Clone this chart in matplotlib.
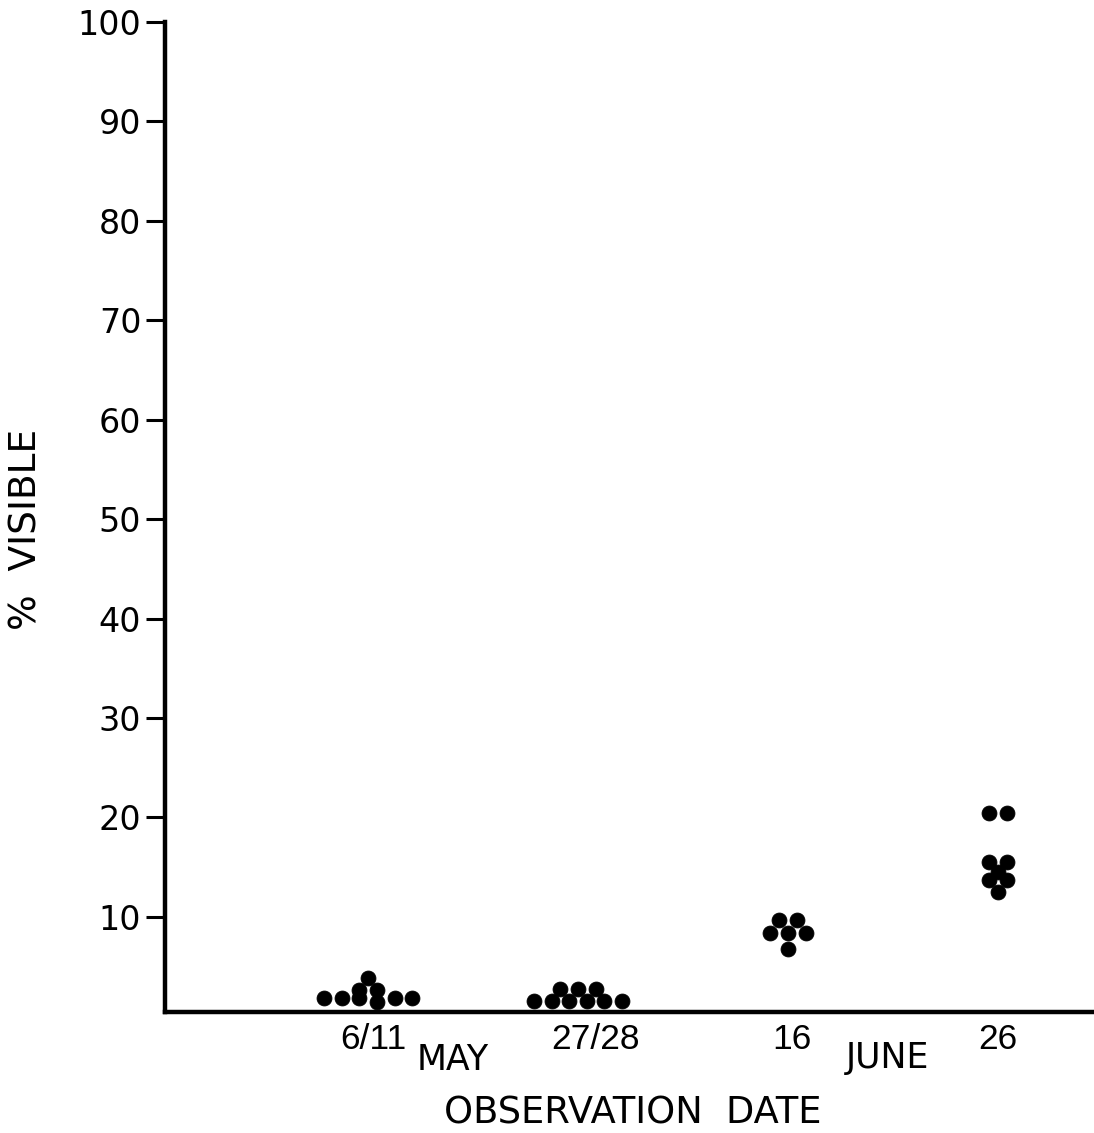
import numpy as np
import matplotlib
matplotlib.use("Agg")
import matplotlib.pyplot as plt
from matplotlib.transforms import ScaledTranslation

# Observation dates and the percentage of plants visible at each
dates = ["6/11", "27/28", "16", "26"]
months = ["MAY", "JUNE"]
pct_may_6_11 = [1.8, 1.8, 1.8, 1.4, 1.8, 1.8, 2.7, 2.7, 3.9]
pct_may_27_28 = [1.5, 1.5, 1.5, 1.5, 1.5, 1.5, 2.8, 2.8, 2.8]
pct_june_16 = [6.8, 8.4, 8.4, 8.4, 9.7, 9.7]
pct_june_26 = [12.5, 13.7, 13.7, 14.5, 15.5, 15.5, 20.5, 20.5]
groups = [pct_may_6_11, pct_may_27_28, pct_june_16, pct_june_26]
y_ticks = [10, 20, 30, 40, 50, 60, 70, 80, 90, 100]

plt.rcParams["font.family"] = ["Liberation Sans", "DejaVu Sans"]
WIDE = ["DejaVu Sans"]

fig = plt.figure(figsize=(10.94, 11.33), dpi=100)
ax = fig.add_axes([0.1508, 0.1068, 0.8492, 0.8738])


def dot_offsets(values, step):
    """Spread dots that fall in the same unit band side by side, centred."""
    vals = np.asarray(values, dtype=float)
    bands = np.floor(vals)
    offs = np.zeros_like(vals)
    for b in np.unique(bands):
        idx = np.where(bands == b)[0]
        n = len(idx)
        offs[idx] = (np.arange(n) - (n - 1) / 2.0) * step
    return offs


step = 0.084
for i, vals in enumerate(groups):
    xs = i + dot_offsets(vals, step)
    ax.scatter(xs, vals, s=115, color="black", edgecolors="black",
               linewidths=0.6, zorder=3)

ax.set_xlim(-0.967, 3.457)
ax.set_ylim(0.44, 100)

for side in ("top", "right"):
    ax.spines[side].set_visible(False)
for side in ("left", "bottom"):
    ax.spines[side].set_linewidth(3.2)
    ax.spines[side].set_color("black")

ax.set_yticks(y_ticks)
ax.set_yticklabels([str(t) for t in y_ticks], family=WIDE)
ax.tick_params(axis="y", direction="out", length=14, width=2.2,
               pad=3, labelsize=24, color="black")

ax.set_xticks(range(len(dates)))
ax.set_xticklabels(dates)
ax.tick_params(axis="x", length=0, pad=8, labelsize=25.5)
shifts_px = [5, 17, 4, 0]
for lab, sh in zip(ax.get_xticklabels(), shifts_px):
    lab.set_transform(lab.get_transform() +
                      ScaledTranslation(sh / 100.0, 0, fig.dpi_scale_trans))

fig.text(453 / 1094, 1 - 1060 / 1133, months[0], ha="center", va="center",
         fontsize=25, family=WIDE)
fig.text(888 / 1094, 1 - 1058 / 1133, months[1], ha="center", va="center",
         fontsize=25, family=WIDE)
fig.text(633 / 1094, 1 - 1113 / 1133, "OBSERVATION  DATE", ha="center",
         va="center", fontsize=26.5, family=WIDE)
fig.text(27 / 1094, 1 - 529 / 1133, "%  VISIBLE", ha="center", va="center",
         rotation=90, fontsize=27, family=WIDE)

fig.savefig("out.png", dpi=100, facecolor="white")
